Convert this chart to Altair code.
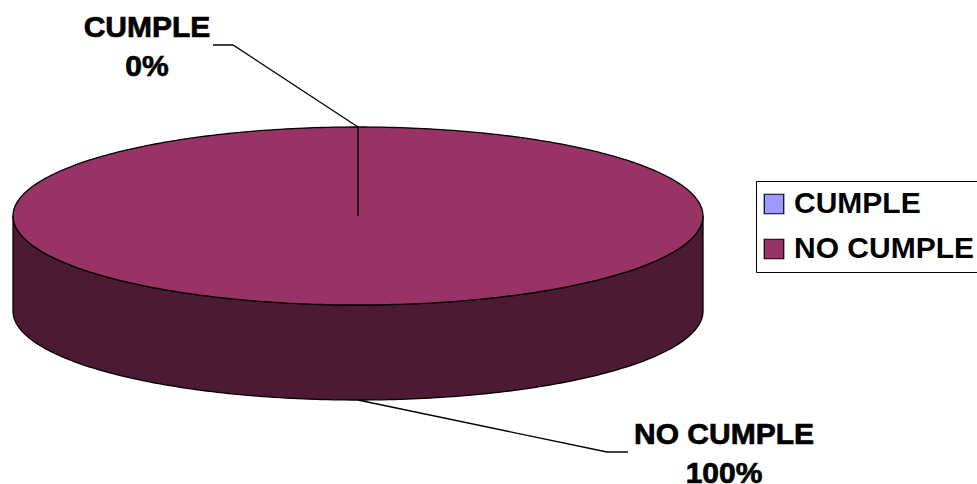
import math
import altair as alt
import pandas as pd

# ---- data ----
categories = ["CUMPLE", "NO CUMPLE"]
values = [0, 100]

# ---- styles / layout ----
top_colors = ["#9999FF", "#993366"]
side_colors = ["#4D4D80", "#4D1A33"]
W, H = 977, 484
CX, CY, RX, RY, DEPTH = 358, 216, 345, 89, 95
FONT = "Liberation Sans"
label_pos = {"CUMPLE": (147, 37), "NO CUMPLE": (724, 444)}
leader_bends = {"CUMPLE": [(233, 45), (213, 45)],
                "NO CUMPLE": [(607, 452), (628, 452)]}
LINE_GAP = 39

total = sum(values)
fracs = [v / total for v in values]
starts = []
acc = 0.0
for f in fracs:
    starts.append(acc)
    acc += f
ends = [s + f for s, f in zip(starts, fracs)]


def pt(a, dy=0.0):
    th = 2 * math.pi * a
    return CX + RX * math.sin(th), CY - RY * math.cos(th) + dy


top_rows, side_rows, leader_rows, text_rows = [], [], [], []
for cat, f, s, e, sc in zip(categories, fracs, starts, ends, side_colors):
    n = max(1, int(round((e - s) * 360)))
    pts = [(CX, CY)] + [pt(s + (e - s) * k / n) for k in range(n + 1)]
    for i, (x, y) in enumerate(pts):
        top_rows.append(dict(cat=cat, i=i, x=x, y=y))
    s2, e2 = max(s, 0.25), min(e, 0.75)
    if e2 > s2:
        m = max(1, int(round((e2 - s2) * 360)))
        arc = [s2 + (e2 - s2) * k / m for k in range(m + 1)]
        spts = [pt(a) for a in arc] + [pt(a, DEPTH) for a in reversed(arc)]
        for i, (x, y) in enumerate(spts):
            side_rows.append(dict(cat=cat, i=i, x=x, y=y, fillc=sc))
    mid = (s + e) / 2
    front = math.cos(2 * math.pi * mid) < 0
    ax, ay = pt(mid, DEPTH if front else 0)
    lpts = [(ax, ay)] + leader_bends[cat]
    for i, (x, y) in enumerate(lpts):
        leader_rows.append(dict(cat=cat, i=i, x=x, y=y))
    lx, ly = label_pos[cat]
    text_rows.append(dict(t=cat, x=lx, y=ly))
    text_rows.append(dict(t=f"{round(f * 100)}%", x=lx, y=ly + LINE_GAP))

xs = alt.Scale(domain=[0, W])
ys = alt.Scale(domain=[0, H], reverse=True)

side = alt.Chart(pd.DataFrame(side_rows)).mark_line(
    interpolate="linear-closed", filled=True, stroke="black", strokeWidth=1.3
).encode(
    x=alt.X("x:Q", scale=xs, axis=None),
    y=alt.Y("y:Q", scale=ys, axis=None),
    order="i:Q",
    detail="cat:N",
    fill=alt.Fill("fillc:N", scale=None),
)

top = alt.Chart(pd.DataFrame(top_rows)).mark_line(
    interpolate="linear-closed", filled=True, stroke="black", strokeWidth=1.3
).encode(
    x=alt.X("x:Q", scale=xs, axis=None),
    y=alt.Y("y:Q", scale=ys, axis=None),
    order="i:Q",
    detail="cat:N",
    color=alt.Color(
        "cat:N",
        scale=alt.Scale(domain=categories, range=top_colors),
        legend=alt.Legend(
            title=None, orient="none", legendX=756, legendY=181,
            strokeColor="black", fillColor="white", padding=8,
            symbolType="square", symbolSize=380, symbolStrokeColor="black",
            symbolStrokeWidth=1.2, symbolOffset=-5, labelFont=FONT,
            labelFontSize=30, labelFontWeight="bold", labelColor="black",
            labelLimit=400, rowPadding=15, labelOffset=5,
        ),
    ),
)

leaders = alt.Chart(pd.DataFrame(leader_rows)).mark_line(
    color="black", strokeWidth=1.3
).encode(
    x=alt.X("x:Q", scale=xs, axis=None),
    y=alt.Y("y:Q", scale=ys, axis=None),
    order="i:Q",
    detail="cat:N",
)

texts = alt.Chart(pd.DataFrame(text_rows)).mark_text(
    font=FONT, fontSize=30, fontWeight="bold", align="center",
    baseline="alphabetic", color="black", stroke="black", strokeWidth=0.7
).encode(
    x=alt.X("x:Q", scale=xs, axis=None),
    y=alt.Y("y:Q", scale=ys, axis=None),
    text="t:N",
)

chart = alt.layer(side, top, leaders, texts).properties(
    width=W, height=H, padding=0,
    autosize=alt.AutoSizeParams(type="none"),
).configure_view(stroke=None)

chart.save("out.html", embed_options={"renderer": "svg", "actions": False})
